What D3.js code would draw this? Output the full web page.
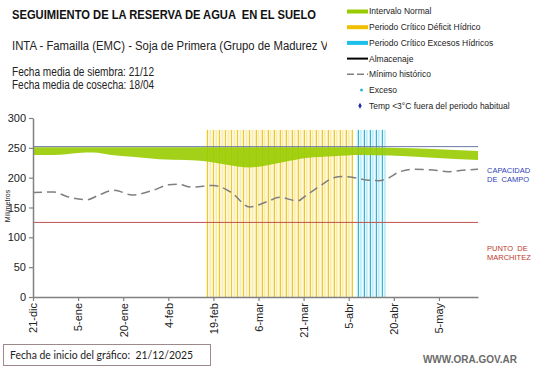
<!DOCTYPE html>
<html>
<head>
<meta charset="utf-8">
<script src="https://cdn.jsdelivr.net/npm/d3@7"></script>
<style>
  body { margin: 0; background: #fff; }
  svg { font-family: Arial, "Liberation Sans", sans-serif; }
</style>
</head>
<body>
<div id="chart"></div>
<script>
const svgWidth = 541;
const svgHeight = 368;

// Data
const startDate = '2025-12-21';
const endDate = '2026-05-18';
const capacidadCampo = 252;
const puntoMarchitez = 125;
const barTop = 280;

const tickDates = ['2025-12-21', '2026-01-05', '2026-01-20', '2026-02-04', '2026-02-19',
  '2026-03-06', '2026-03-21', '2026-04-05', '2026-04-20', '2026-05-05'];
const tickLabels = ['21-dic', '5-ene', '20-ene', '4-feb', '19-feb', '6-mar', '21-mar', '5-abr', '20-abr', '5-may'];

const deficitPeriod = ['2026-02-17', '2026-04-06'];
const excesoPeriod = ['2026-04-08', '2026-04-17'];

// Intervalo normal (band)
const normalDates = ['2025-12-21', '2025-12-28', '2026-01-05', '2026-01-10', '2026-01-16', '2026-01-23',
  '2026-02-01', '2026-02-10', '2026-02-17', '2026-02-23', '2026-03-03', '2026-03-09', '2026-03-14',
  '2026-03-22', '2026-03-31', '2026-04-09', '2026-04-19', '2026-05-03', '2026-05-18'];
const normalLow = [238, 238, 241.5, 242, 238, 235, 231, 229.5, 227, 222, 217, 221, 226, 233, 236, 238, 237, 233.5, 229.5];
const normalHigh = [251, 251, 251, 251, 251, 251, 251, 251, 251, 251, 251, 251, 251, 251, 251, 251, 250, 248, 244.5];

// Mínimo histórico
const minDates = ['2025-12-21', '2025-12-28', '2026-01-01', '2026-01-08', '2026-01-12', '2026-01-17',
  '2026-01-23', '2026-01-30', '2026-02-04', '2026-02-07', '2026-02-12', '2026-02-19', '2026-02-25',
  '2026-03-03', '2026-03-09', '2026-03-13', '2026-03-19', '2026-03-22', '2026-03-27', '2026-03-31',
  '2026-04-03', '2026-04-07', '2026-04-11', '2026-04-15', '2026-04-18', '2026-04-22', '2026-04-27',
  '2026-05-03', '2026-05-08', '2026-05-12', '2026-05-18'];
const minValues = [175, 176, 169, 163, 171, 179, 171, 179, 188, 189, 184, 187, 175, 151, 160, 167,
  161, 171, 188, 200, 202, 200, 196, 195, 199, 210, 214, 213, 210, 212, 214];

const parse = d3.utcParse('%Y-%m-%d');

const svg = d3
  .select('#chart')
  .append('svg')
  .attr('width', svgWidth)
  .attr('height', svgHeight);

// Scales
const x = d3.scaleUtc()
  .domain([parse(startDate), parse(endDate)])
  .range([33, 478]);

const y = d3.scaleLinear()
  .domain([0, 300])
  .range([297, 118]);

// Critical period bars, one per day
function drawPeriod(period, pale, dark) {
  const days = d3.utcDay.range(parse(period[0]), d3.utcDay.offset(parse(period[1]), 1));
  const g = svg.append('g');
  g.selectAll('rect')
    .data(days)
    .enter()
    .append('rect')
    .attr('x', (d) => x(d) - 1)
    .attr('y', y(barTop))
    .attr('width', 2)
    .attr('height', y(0) - y(barTop))
    .attr('fill', pale);
  g.selectAll('line')
    .data(days.filter((d, i) => i % 2 === 0))
    .enter()
    .append('line')
    .attr('x1', (d) => Math.round(x(d)) + 0.5)
    .attr('x2', (d) => Math.round(x(d)) + 0.5)
    .attr('y1', y(barTop))
    .attr('y2', y(0))
    .attr('stroke', dark)
    .attr('stroke-width', 1);
}
drawPeriod(deficitPeriod, '#f9ecad', '#efc82a');
drawPeriod(excesoPeriod, '#c4ecf6', '#2cb8dc');

// Normal band
const normalData = normalDates.map((d, i) => ({ date: parse(d), lo: normalLow[i], hi: normalHigh[i] }));
svg.append('path')
  .datum(normalData)
  .attr('fill', '#99cc00')
  .attr('fill-opacity', 0.9)
  .attr('d', d3.area()
    .curve(d3.curveMonotoneX)
    .x((d) => x(d.date))
    .y0((d) => y(d.lo))
    .y1((d) => y(d.hi)));

// Reference lines
svg.append('line')
  .attr('x1', x(parse(startDate)))
  .attr('x2', x(parse(endDate)))
  .attr('y1', y(capacidadCampo))
  .attr('y2', y(capacidadCampo))
  .attr('stroke', '#6a78a8')
  .attr('stroke-width', 1);

svg.append('line')
  .attr('x1', x(parse(startDate)))
  .attr('x2', x(parse(endDate)))
  .attr('y1', y(puntoMarchitez))
  .attr('y2', y(puntoMarchitez))
  .attr('stroke', '#c0504d')
  .attr('stroke-width', 1);

// Mínimo histórico dashed line
const minData = minDates.map((d, i) => ({ date: parse(d), v: minValues[i] }));
svg.append('path')
  .datum(minData)
  .attr('fill', 'none')
  .attr('stroke', '#7f7f7f')
  .attr('stroke-width', 1.5)
  .attr('stroke-dasharray', '9,5')
  .attr('d', d3.line()
    .curve(d3.curveMonotoneX)
    .x((d) => x(d.date))
    .y((d) => y(d.v)));

// Axes
const yAxis = svg.append('g')
  .attr('transform', 'translate(33,0)')
  .call(d3.axisLeft(y).tickValues([0, 50, 100, 150, 200, 250, 300]).tickSize(4).tickSizeOuter(0).tickPadding(3));

const xAxis = svg.append('g')
  .attr('transform', 'translate(0,297)')
  .call(d3.axisBottom(x)
    .tickValues(tickDates.map(parse))
    .tickFormat((d, i) => tickLabels[i])
    .tickSize(4)
    .tickSizeOuter(0));

xAxis.selectAll('text')
  .attr('transform', 'rotate(-90)')
  .attr('text-anchor', 'end')
  .attr('x', -6)
  .attr('y', 0)
  .attr('dy', '0.35em');

[yAxis, xAxis].forEach((g) => {
  g.select('.domain').attr('stroke', '#808080').attr('stroke-width', 1.5);
  g.selectAll('.tick line').attr('stroke', '#808080').attr('stroke-width', 1.2);
  g.selectAll('.tick text')
    .attr('fill', '#222')
    .style('font-size', '11px')
    .style('font-family', 'Arial, "Liberation Sans", sans-serif');
});

// Y axis label
svg.append('text')
  .attr('transform', 'translate(10,206) rotate(-90)')
  .attr('text-anchor', 'middle')
  .style('font-size', '7px')
  .attr('fill', '#222')
  .text('Milímetros');

// Right labels
const rightLabels = svg.append('g').style('font-size', '7.5px');
rightLabels.append('text').attr('x', 487).attr('y', 173).attr('fill', '#2f3fb8').text('CAPACIDAD');
rightLabels.append('text').attr('x', 487).attr('y', 182).attr('fill', '#2f3fb8').attr('xml:space', 'preserve').text('DE  CAMPO');
rightLabels.append('text').attr('x', 487).attr('y', 251).attr('fill', '#c0392b').attr('xml:space', 'preserve').text('PUNTO  DE');
rightLabels.append('text').attr('x', 487).attr('y', 260).attr('fill', '#c0392b').text('MARCHITEZ');

// Titles (the source image is slightly condensed, so widths are fixed)
svg.append('text')
  .attr('x', 12)
  .attr('y', 19)
  .attr('xml:space', 'preserve')
  .attr('textLength', 304)
  .attr('lengthAdjust', 'spacingAndGlyphs')
  .style('font-size', '12px')
  .style('font-weight', 'bold')
  .attr('fill', '#111')
  .text('SEGUIMIENTO DE LA RESERVA DE AGUA  EN EL SUELO');

svg.append('clipPath')
  .attr('id', 'subClip')
  .append('rect')
  .attr('x', 0).attr('y', 30).attr('width', 327).attr('height', 30);

svg.append('g')
  .attr('clip-path', 'url(#subClip)')
  .append('text')
  .attr('x', 12)
  .attr('y', 50)
  .attr('textLength', 320)
  .attr('lengthAdjust', 'spacingAndGlyphs')
  .style('font-size', '12.5px')
  .attr('fill', '#222')
  .text('INTA - Famailla (EMC) - Soja de Primera (Grupo de Madurez V)');

svg.append('text').attr('x', 12).attr('y', 76).style('font-size', '12px').attr('fill', '#222')
  .attr('textLength', 142).attr('lengthAdjust', 'spacingAndGlyphs')
  .text('Fecha media de siembra: 21/12');
svg.append('text').attr('x', 12).attr('y', 89).style('font-size', '12px').attr('fill', '#222')
  .attr('textLength', 142).attr('lengthAdjust', 'spacingAndGlyphs')
  .text('Fecha media de cosecha: 18/04');

// Legend
const legendItems = [
  { label: 'Intervalo Normal', type: 'rect', color: '#99cc00' },
  { label: 'Periodo Crítico Déficit Hídrico', type: 'rect', color: '#f0c000' },
  { label: 'Periodo Crítico Excesos Hídricos', type: 'rect', color: '#1cc0ea' },
  { label: 'Almacenaje', type: 'line', color: '#000' },
  { label: 'Mínimo histórico', type: 'dash', color: '#808080' },
  { label: 'Exceso', type: 'dot', color: '#2cb8dc' },
  { label: 'Temp <3°C fuera del periodo habitual', type: 'diamond', color: '#1a2aa8' }
];

const legend = svg.append('g').attr('transform', 'translate(347,0)');
const item = legend.selectAll('g')
  .data(legendItems)
  .enter()
  .append('g')
  .attr('transform', (d, i) => `translate(0,${11.5 + i * 15.7})`);

item.filter((d) => d.type === 'rect')
  .append('rect')
  .attr('x', 0).attr('y', -2).attr('width', 21).attr('height', 4)
  .attr('fill', (d) => d.color);
item.filter((d) => d.type === 'line')
  .append('line')
  .attr('x1', 0).attr('x2', 21).attr('y1', 0).attr('y2', 0)
  .attr('stroke', (d) => d.color).attr('stroke-width', 2);
item.filter((d) => d.type === 'dash')
  .append('line')
  .attr('x1', 0).attr('x2', 21).attr('y1', 0).attr('y2', 0)
  .attr('stroke', (d) => d.color).attr('stroke-width', 1.5).attr('stroke-dasharray', '7,3');
item.filter((d) => d.type === 'dot')
  .append('circle')
  .attr('cx', 14.5).attr('cy', 0).attr('r', 1.5)
  .attr('fill', (d) => d.color);
item.filter((d) => d.type === 'diamond')
  .append('path')
  .attr('d', d3.symbol(d3.symbolDiamond, 10))
  .attr('transform', 'translate(13,0)')
  .attr('fill', (d) => d.color);

item.append('text')
  .attr('x', 22)
  .attr('dy', '0.35em')
  .style('font-size', '8.5px')
  .attr('fill', '#222')
  .text((d) => d.label);

// Bottom box
svg.append('rect')
  .attr('x', 3.5).attr('y', 344.5).attr('width', 207).attr('height', 21)
  .attr('fill', '#fff')
  .attr('stroke', '#9c8a8a')
  .attr('stroke-width', 1);
svg.append('text')
  .attr('x', 10)
  .attr('y', 359)
  .attr('xml:space', 'preserve')
  .attr('textLength', 183)
  .attr('lengthAdjust', 'spacingAndGlyphs')
  .style('font-family', 'Lato, "Open Sans", sans-serif')
  .style('font-size', '12px')
  .attr('fill', '#222')
  .text('Fecha de inicio del gráfico:  21/12/2025');

svg.append('text')
  .attr('x', 517)
  .attr('y', 363)
  .attr('text-anchor', 'end')
  .style('font-size', '10px')
  .style('font-weight', 'bold')
  .attr('fill', '#6b6b6b')
  .text('WWW.ORA.GOV.AR');
</script>
</body>
</html>
